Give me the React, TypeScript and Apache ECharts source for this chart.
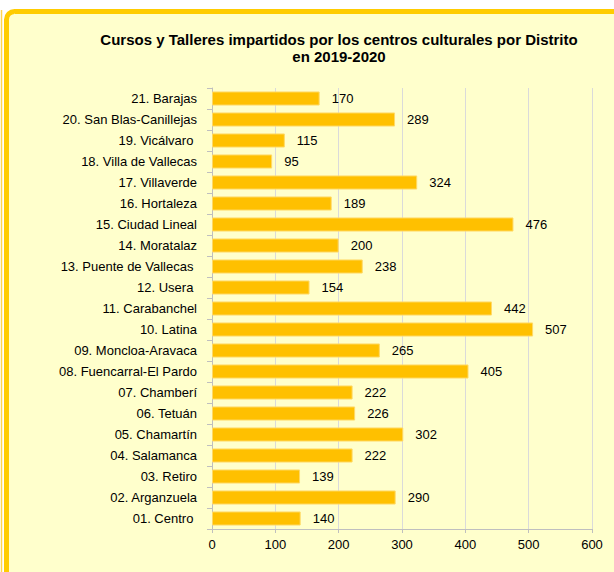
import React, { useEffect, useRef } from "react";
import * as echarts from "echarts";

const categories = [
  "01. Centro ",
  "02. Arganzuela",
  "03. Retiro",
  "04. Salamanca",
  "05. Chamartín",
  "06. Tetuán",
  "07. Chamberí",
  "08. Fuencarral-El Pardo",
  "09. Moncloa-Aravaca",
  "10. Latina",
  "11. Carabanchel",
  "12. Usera ",
  "13. Puente de Vallecas ",
  "14. Moratalaz",
  "15. Ciudad Lineal",
  "16. Hortaleza",
  "17. Villaverde",
  "18. Villa de Vallecas",
  "19. Vicálvaro ",
  "20. San Blas-Canillejas",
  "21. Barajas",
];

const values = [140, 290, 139, 222, 302, 226, 222, 405, 265, 507, 442, 154, 238, 200, 476, 189, 324, 95, 115, 289, 170];

const titleText = "Cursos y Talleres impartidos por los centros culturales por Distrito\nen 2019-2020";

export default function App() {
  const ref = useRef<HTMLDivElement>(null);
  useEffect(() => {
    document.body.style.margin = "0";
    const chart = echarts.init(ref.current!, null, { renderer: "svg" });
    const font = "'Liberation Sans', Arial, sans-serif";
    chart.setOption({
      animation: false,
      backgroundColor: "#FFFFFF",
      graphic: [
        {
          type: "line",
          z: -10,
          shape: { x1: 1.5, y1: 10, x2: 1.5, y2: 600 },
          style: { stroke: "#FFD54F", lineWidth: 1.5 },
        },
        {
          type: "rect",
          z: -10,
          shape: { x: 6.5, y: 11.5, width: 720, height: 700, r: 8 },
          style: { fill: "#FFFFCC", stroke: "#FFCC00", lineWidth: 5 },
        },
      ],
      title: {
        text: titleText,
        left: 334,
        top: 26,
        textAlign: "center",
        textStyle: {
          fontFamily: font,
          fontSize: 15,
          fontWeight: "bold",
          color: "#000",
          lineHeight: 17,
        },
      },
      grid: { left: 212, right: 22, top: 88, bottom: 43, containLabel: false },
      xAxis: {
        type: "value",
        min: 0,
        max: 600,
        interval: 100,
        axisLine: { show: true, lineStyle: { color: "#BFBFBF", width: 1 } },
        axisTick: { show: true, length: 4, lineStyle: { color: "#BFBFBF" } },
        axisLabel: { fontFamily: font, fontSize: 13, color: "#000", margin: 9 },
        splitLine: { show: true, lineStyle: { color: "#DADADA", width: 1 } },
      },
      yAxis: {
        type: "category",
        data: categories,
        axisLine: { show: true, lineStyle: { color: "#BFBFBF", width: 1 } },
        axisTick: { show: true, length: 5, lineStyle: { color: "#BFBFBF" } },
        axisLabel: { fontFamily: font, fontSize: 13, color: "#000", margin: 15 },
      },
      series: [
        {
          type: "bar",
          data: values,
          barCategoryGap: "33%",
          itemStyle: { color: "#FFC000", borderColor: "#FFD966", borderWidth: 1 },
          label: {
            show: true,
            position: "right",
            distance: 12,
            fontFamily: font,
            fontSize: 13,
            color: "#000",
          },
        },
      ],
    });
    return () => chart.dispose();
  }, []);
  return <div ref={ref} style={{ width: 614, height: 572 }} />;
}
